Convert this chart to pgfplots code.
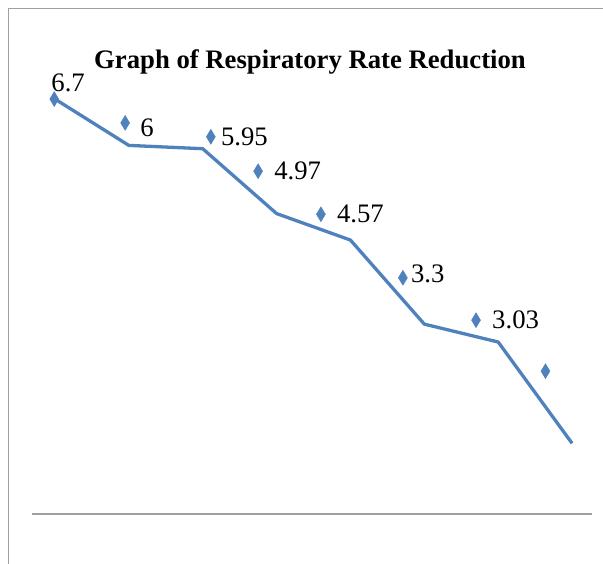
\documentclass[border=0pt]{standalone}
\usepackage{fontspec}
\setmainfont{Liberation Serif}
\usepackage{pgfplots}
\pgfplotsset{compat=1.18}
\usepackage{pgfplotstable}
\definecolor{exblue}{RGB}{79,129,189}
\definecolor{framegray}{RGB}{160,160,160}

% Line series: respiratory rate reduction values
\pgfplotstableread{
x y
1 6.7
2 6
3 5.95
4 4.97
5 4.57
6 3.3
7 3.03
8 1.5
}\linedata

% Marker series with data labels (as displayed, offset from the line)
\pgfplotstableread{
x y label dx dy
0.99 6.70 6.7 -3 16
1.95 6.34 6 15 -5
3.11 6.13 5.95 10 0
3.75 5.61 4.97 16 0
4.60 4.96 4.57 16 0
5.71 4.00 3.3 8 4
6.70 3.36 3.03 16 0
7.64 2.59 {} 16 0
}\markdata

\begin{document}
\begin{tikzpicture}
\path[use as bounding box] (0,0) rectangle (603bp,564bp);
\draw[framegray, line width=1bp] (8bp,0) -- (8bp,555bp) -- (603bp,555bp);
\node[anchor=base, font=\fontsize{26.7bp}{32bp}\selectfont\bfseries, inner sep=0pt] at (310bp,495bp) {Graph of Respiratory Rate Reduction};
\begin{axis}[
  at={(32bp,50bp)}, anchor=south west,
  scale only axis, width=560bp, height=454bp,
  xmin=0.689, xmax=8.27, ymin=0.432, ymax=7.29,
  axis x line=bottom, axis y line=none,
  axis line style={-, framegray, line width=1.3bp},
  xtick=\empty, ytick=\empty,
  clip=false,
]
\addplot[exblue, line width=3.3bp, no markers, line join=round] table[x=x, y=y] {\linedata};
\addplot[only marks, mark=diamond*, mark size=7.5bp, mark options={exblue, fill=exblue, xscale=0.8},
  point meta=explicit symbolic,
  visualization depends on={\thisrow{dx} \as \dxv},
  visualization depends on={\thisrow{dy} \as \dyv},
  nodes near coords,
  every node near coord/.style={anchor=west, inner sep=0pt, xshift=\dxv*1bp, yshift=\dyv*1bp, font=\fontsize{26.7bp}{32bp}\selectfont, text=black},
] table[x=x, y=y, meta=label] {\markdata};
\end{axis}
\end{tikzpicture}
\end{document}
